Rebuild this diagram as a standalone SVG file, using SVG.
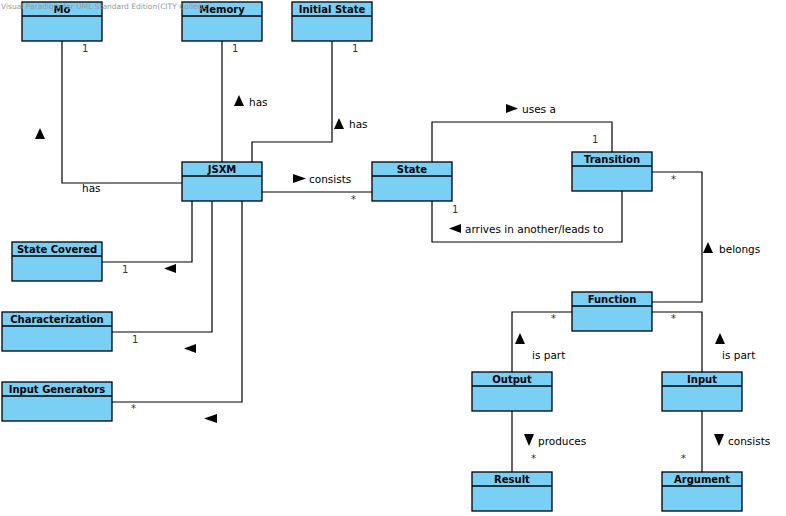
<svg xmlns="http://www.w3.org/2000/svg" width="786" height="516" viewBox="0 0 786 516">
<style>
.box{fill:#7acff5;stroke:#000;stroke-width:1.3}
.div{stroke:#000;stroke-width:1.3}
.t{font-family:"DejaVu Sans",sans-serif;font-weight:bold;font-size:10px;text-anchor:middle;fill:#000}
.l{font-family:"DejaVu Sans",sans-serif;font-size:10.5px;fill:#000}
.m{font-family:"DejaVu Sans",sans-serif;font-size:10px;fill:#333}
.c{fill:none;stroke:#000;stroke-width:1.2}
.wm{font-family:"DejaVu Sans",sans-serif;font-size:7.5px;fill:#999}
</style>
<rect width="786" height="516" fill="#fff"/>
<g id="connectors">
<polyline class="c" points="62,41 62,183 182,183"/>
<polyline class="c" points="222,41 222,162"/>
<polyline class="c" points="332,41 332,142 252,142 252,162"/>
<polyline class="c" points="262,192 372,192"/>
<polyline class="c" points="102,262 192,262 192,201"/>
<polyline class="c" points="112,332 212,332 212,201"/>
<polyline class="c" points="112,402 242,402 242,201"/>
<polyline class="c" points="432,162 432,122 612,122 612,152"/>
<polyline class="c" points="432,201 432,242 622,242 622,191"/>
<polyline class="c" points="652,172 702,172 702,302 652,302"/>
<polyline class="c" points="572,312 512,312 512,372"/>
<polyline class="c" points="652,312 702,312 702,372"/>
<polyline class="c" points="512,411 512,472"/>
<polyline class="c" points="702,411 702,472"/>
<polygon points="35,139 45,139 40,128" fill="#000"/>
<polygon points="234,106 244,106 239,95" fill="#000"/>
<polygon points="334,129 344,129 339,118" fill="#000"/>
<polygon points="293,174 293,183 306,178.5" fill="#000"/>
<polygon points="176,264 176,273 164,268.5" fill="#000"/>
<polygon points="196,344 196,353 184,348.5" fill="#000"/>
<polygon points="217,414 217,423 204,418.5" fill="#000"/>
<polygon points="506,104 506,113 518,108.5" fill="#000"/>
<polygon points="461,224 461,233 449,228.5" fill="#000"/>
<polygon points="703,253 713,253 708,242" fill="#000"/>
<polygon points="515,344 525,344 520,333" fill="#000"/>
<polygon points="715,344 725,344 720,333" fill="#000"/>
<polygon points="524,434 534,434 529,446" fill="#000"/>
<polygon points="714,434 724,434 719,446" fill="#000"/>
<text class="m" x="82" y="52">1</text>
<text class="m" x="232" y="52">1</text>
<text class="m" x="352" y="52">1</text>
<text class="l" x="82" y="192">has</text>
<text class="l" x="249" y="106">has</text>
<text class="l" x="349" y="128">has</text>
<text class="l" x="309" y="183">consists</text>
<text class="m" x="351" y="203">*</text>
<text class="m" x="122" y="273">1</text>
<text class="m" x="132" y="343">1</text>
<text class="m" x="131" y="412">*</text>
<text class="l" x="522" y="113">uses a</text>
<text class="m" x="592" y="143">1</text>
<text class="m" x="452" y="213">1</text>
<text class="l" x="465" y="233">arrives in another/leads to</text>
<text class="m" x="671" y="183">*</text>
<text class="l" x="719" y="253">belongs</text>
<text class="m" x="551" y="322">*</text>
<text class="m" x="671" y="322">*</text>
<text class="l" x="532" y="359">is part</text>
<text class="l" x="722" y="359">is part</text>
<text class="l" x="538" y="445">produces</text>
<text class="l" x="728" y="445">consists</text>
<text class="m" x="531" y="462">*</text>
<text class="m" x="681" y="462">*</text>
</g>
<g id="Mo"><rect class="box" x="22" y="2" width="80" height="39"/><line class="div" x1="22" y1="16" x2="102" y2="16"/><text class="t" x="62" y="13">Mo</text></g>
<g id="Memory"><rect class="box" x="182" y="2" width="80" height="39"/><line class="div" x1="182" y1="16" x2="262" y2="16"/><text class="t" x="222" y="13">Memory</text></g>
<g id="InitialState"><rect class="box" x="292" y="2" width="80" height="39"/><line class="div" x1="292" y1="16" x2="372" y2="16"/><text class="t" x="332" y="13">Initial State</text></g>
<g id="JSXM"><rect class="box" x="182" y="162" width="80" height="39"/><line class="div" x1="182" y1="176" x2="262" y2="176"/><text class="t" x="222" y="173">JSXM</text></g>
<g id="State"><rect class="box" x="372" y="162" width="80" height="39"/><line class="div" x1="372" y1="176" x2="452" y2="176"/><text class="t" x="412" y="173">State</text></g>
<g id="Transition"><rect class="box" x="572" y="152" width="80" height="39"/><line class="div" x1="572" y1="166" x2="652" y2="166"/><text class="t" x="612" y="163">Transition</text></g>
<g id="StateCovered"><rect class="box" x="12" y="242" width="90" height="39"/><line class="div" x1="12" y1="256" x2="102" y2="256"/><text class="t" x="57" y="253">State Covered</text></g>
<g id="Characterization"><rect class="box" x="2" y="312" width="110" height="39"/><line class="div" x1="2" y1="326" x2="112" y2="326"/><text class="t" x="57" y="323">Characterization</text></g>
<g id="InputGenerators"><rect class="box" x="2" y="382" width="110" height="39"/><line class="div" x1="2" y1="396" x2="112" y2="396"/><text class="t" x="57" y="393">Input Generators</text></g>
<g id="Function"><rect class="box" x="572" y="292" width="80" height="39"/><line class="div" x1="572" y1="306" x2="652" y2="306"/><text class="t" x="612" y="303">Function</text></g>
<g id="Output"><rect class="box" x="472" y="372" width="80" height="39"/><line class="div" x1="472" y1="386" x2="552" y2="386"/><text class="t" x="512" y="383">Output</text></g>
<g id="Input"><rect class="box" x="662" y="372" width="80" height="39"/><line class="div" x1="662" y1="386" x2="742" y2="386"/><text class="t" x="702" y="383">Input</text></g>
<g id="Result"><rect class="box" x="472" y="472" width="80" height="39"/><line class="div" x1="472" y1="486" x2="552" y2="486"/><text class="t" x="512" y="483">Result</text></g>
<g id="Argument"><rect class="box" x="662" y="472" width="80" height="39"/><line class="div" x1="662" y1="486" x2="742" y2="486"/><text class="t" x="702" y="483">Argument</text></g>
<text class="wm" x="1" y="9">Visual Paradigm for UML Standard Edition(CITY College)</text>
</svg>
